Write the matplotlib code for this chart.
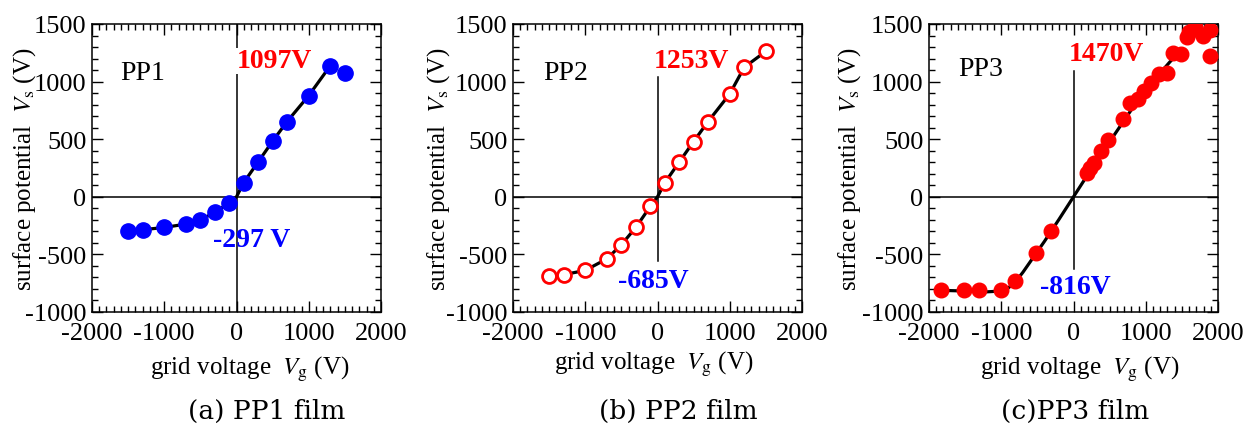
import numpy as np
import matplotlib
matplotlib.use("Agg")
import matplotlib.pyplot as plt
from matplotlib.ticker import MultipleLocator

plt.rcParams["font.family"] = ["Liberation Serif", "DejaVu Serif"]
plt.rcParams["mathtext.fontset"] = "stix"
plt.rcParams["axes.unicode_minus"] = False

# ------------------------------------------------------------------
# data
# ------------------------------------------------------------------
pp1_vg = [-1500, -1300, -1000, -700, -500, -300, -100, 100, 300, 500, 700, 1000, 1300, 1500]
pp1_vs = [-297, -286, -266, -237, -199, -136, -52, 124, 303, 483, 653, 879, 1139, 1075]
pp1_fit_vg = [-1500, -1300, -1000, -700, -500, -300, -100, 0, 100, 300, 500, 700, 1000, 1300]
pp1_fit_vs = [-297, -286, -266, -237, -199, -136, -52, 0, 124, 303, 483, 653, 879, 1139]

pp2_vg = [-1500, -1300, -1000, -700, -500, -300, -100, 100, 300, 500, 700, 1000, 1200, 1500]
pp2_vs = [-688, -676, -639, -538, -416, -266, -84, 121, 301, 480, 653, 893, 1124, 1263]
pp2_fit_vg = [-1500, -1300, -1000, -700, -500, -300, -100, 0, 100, 300, 500, 700, 1000, 1200, 1500]
pp2_fit_vs = [-688, -676, -639, -538, -416, -266, -84, 0, 121, 301, 480, 653, 893, 1124, 1263]

pp3_vg = [-1830, -1520, -1310, -1010, -810, -520, -310, 180, 230, 280, 380, 480,
          680, 780, 890, 980, 1070, 1180, 1290, 1380, 1490, 1570, 1600, 1680,
          1790, 1890, 1890]
pp3_vs = [-807, -807, -807, -812, -728, -486, -298, 210, 250, 295, 395, 490,
          672, 810, 845, 915, 985, 1070, 1073, 1246, 1240, 1390, 1428, 1472,
          1399, 1448, 1225]
pp3_fit_vg = [-1830, -1500, -1200, -1000, -900, -800, -700, -600, -400, -200, 0,
              200, 400, 600, 800, 1000, 1200, 1330, 1450]
pp3_fit_vs = [-812, -818, -825, -818, -790, -735, -655, -565, -385, -195, 0,
              195, 385, 570, 755, 925, 1075, 1168, 1250]

panels = ["PP1", "PP2", "PP3"]
captions = ["(a) PP1 film", "(b) PP2 film", "(c)PP3 film"]
peak_labels = ["1097V", "1253V", "1470V"]
low_labels = ["-297 V", "-685V", "-816V"]

# ------------------------------------------------------------------
W, H = 1251, 431
fig = plt.figure(figsize=(W / 100, H / 100), dpi=100)

lefts = [92, 513, 929]
ax_w, ax_top, ax_bot = 289, 25, 313

# label positions in axes fraction (peak x, peak y, low x, low y)
txt_pos = [(0.502, 0.872, 0.419, 0.253),
           (0.486, 0.872, 0.362, 0.108),
           (0.484, 0.896, 0.384, 0.090)]
name_pos = [(0.176, 0.833), (0.181, 0.833), (0.180, 0.847)]
vline_span = [(-1000, 1500), (-560, 1040), (-625, 1094)]
ylab_x = [-0.186, -0.210, -0.228]
xlab_pos = [(0.547, -0.145), (0.486, -0.127), (0.522, -0.145)]

data = [(pp1_vg, pp1_vs, pp1_fit_vg, pp1_fit_vs),
        (pp2_vg, pp2_vs, pp2_fit_vg, pp2_fit_vs),
        (pp3_vg, pp3_vs, pp3_fit_vg, pp3_fit_vs)]

for i in range(3):
    ax = fig.add_axes([lefts[i] / W, (H - ax_bot) / H, ax_w / W, (ax_bot - ax_top) / H])
    vg, vs, fvg, fvs = data[i]

    ax.axhline(0, color="black", lw=1.1, zorder=1)
    ax.plot([0, 0], vline_span[i], color="black", lw=1.1, zorder=1)

    ax.plot(fvg, fvs, color="black", lw=2.3, zorder=2)
    if i == 0:
        ax.plot(vg, vs, "o", color="#0000ff", ms=11, mec="#0000ff", zorder=3)
    elif i == 1:
        ax.plot(vg, vs, "o", mfc="white", mec="#ff0000", mew=2.0, ms=10, zorder=3)
    else:
        ax.plot(vg, vs, "o", color="#ff0000", ms=10.5, mec="#ff0000", zorder=3)

    ax.set_xlim(-2000, 2000)
    ax.set_ylim(-1000, 1500)
    ax.xaxis.set_major_locator(MultipleLocator(1000))
    ax.xaxis.set_minor_locator(MultipleLocator(100))
    ax.yaxis.set_major_locator(MultipleLocator(500))
    ax.yaxis.set_minor_locator(MultipleLocator(100))
    ax.tick_params(which="both", direction="in", top=True, right=True,
                   labelsize=19, width=1.0)
    ax.tick_params(which="major", length=8)
    ax.tick_params(which="minor", length=4)
    ax.tick_params(axis="x", which="major", pad=7)
    ax.tick_params(axis="y", which="major", pad=4)
    for sp in ax.spines.values():
        sp.set_linewidth(1.1)

    ax.set_xlabel(r"grid voltage  $V_{\rm g}$ (V)", fontsize=18)
    ax.set_ylabel(r"surface potential  $V_{\rm s}$ (V)", fontsize=18)
    ax.xaxis.set_label_coords(*xlab_pos[i])
    ax.yaxis.set_label_coords(ylab_x[i], 0.5)

    ax.text(*name_pos[i], panels[i], transform=ax.transAxes, fontsize=20,
            ha="center", va="center")
    px, py, lx, ly = txt_pos[i]
    ax.text(px, py, peak_labels[i], transform=ax.transAxes, fontsize=20,
            fontweight="bold", color="#ff0000", ha="left", va="center",
            bbox=dict(fc="white", ec="none", pad=0.5), zorder=4)
    ax.text(lx, ly, low_labels[i], transform=ax.transAxes, fontsize=20,
            fontweight="bold", color="#0000ff", ha="left", va="center", zorder=4)

cap_x = [267, 678, 1075]
for i in range(3):
    fig.text(cap_x[i] / W, 1 - 411 / H, captions[i], fontsize=19,
             family=["DejaVu Serif"], ha="center", va="center")

fig.savefig("out.png", dpi=100)
